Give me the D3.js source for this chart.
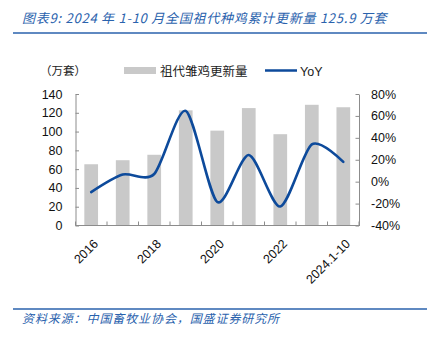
<!DOCTYPE html>
<html><head><meta charset="utf-8">
<script src="https://cdn.jsdelivr.net/npm/d3@7"></script>
<style>
body{margin:0;background:#fff;}
svg{display:block;}
text{font-family:"Liberation Sans",Arial,sans-serif;}
.cjk{font-family:"Noto Sans CJK SC",sans-serif;}
</style></head>
<body>
<svg id="c" width="427" height="338"></svg>
<script>
const categories = ["2016","2017","2018","2019","2020","2021","2022","2023","2024.1-10"];
const shownLabels = ["2016","2018","2020","2022","2024.1-10"];
const barValues = [65.2, 69.5, 75.3, 122.6, 101.0, 125.0, 97.2, 128.5, 125.9];
const yoyValues = [-9.5, 6.5, 7.0, 64.6, -18.5, 24.3, -22.7, 34.0, 18.0];
const leftTicks = [0,20,40,60,80,100,120,140];
const rightTicks = [-40,-20,0,20,40,60,80];
const titleText = "图表9:  2024 年 1-10 月全国祖代种鸡累计更新量 125.9 万套";
const sourceText = "资料来源：中国畜牧业协会，国盛证券研究所";
const unitText = "（万套）";
const barName = "祖代雏鸡更新量";
const lineName = "YoY";

const svg = d3.select("#c");
const blue = "#2a62ad";
const lineBlue = "#0d4a9b";
const axisGray = "#8c8c8c";
const barGray = "#c9c9c9";

const L = 75.5, R = 359, T = 94, B = 225.5;
const x = d3.scaleBand().domain(categories).range([L, R]).paddingInner(0.565).paddingOuter(0.28);
const yL = d3.scaleLinear().domain([0,140]).range([B, T]);
const yR = d3.scaleLinear().domain([-40,80]).range([B, T]);

// title
svg.append("text").attr("class","cjk").attr("x",22).attr("y",23)
  .attr("font-size",13).attr("letter-spacing",0.75).attr("font-style","italic").attr("fill",blue).text(titleText);
svg.append("line").attr("x1",13).attr("x2",427).attr("y1",33).attr("y2",33)
  .attr("stroke",blue).attr("stroke-width",1.5);

// source
svg.append("line").attr("x1",13).attr("x2",427).attr("y1",309).attr("y2",309)
  .attr("stroke",blue).attr("stroke-width",1.5);
svg.append("text").attr("class","cjk").attr("x",22).attr("y",323)
  .attr("font-size",12).attr("letter-spacing",0.9).attr("font-style","italic").attr("fill",blue).text(sourceText);

// legend
svg.append("text").attr("class","cjk").attr("x",40).attr("y",75).attr("font-size",11.5).attr("fill","#222").text(unitText);
svg.append("rect").attr("x",124).attr("y",67).attr("width",32).attr("height",7).attr("fill",barGray);
svg.append("text").attr("class","cjk").attr("x",160).attr("y",75.5).attr("font-size",12.5).attr("fill","#222").text(barName);
svg.append("line").attr("x1",265).attr("x2",297).attr("y1",70.5).attr("y2",70.5).attr("stroke",lineBlue).attr("stroke-width",2.5);
svg.append("text").attr("x",300).attr("y",75.5).attr("font-size",12.5).attr("fill","#222").text(lineName);

// bars
svg.append("g").selectAll("rect").data(categories).join("rect")
  .attr("x", d => x(d)).attr("width", x.bandwidth())
  .attr("y", (d,i) => yL(barValues[i])).attr("height", (d,i) => B - yL(barValues[i]))
  .attr("fill", barGray);

// axes
const gL = svg.append("g").attr("transform",`translate(${L},0)`)
  .call(d3.axisLeft(yL).tickValues(leftTicks).tickSizeInner(-3.5).tickSizeOuter(0).tickPadding(13));
const gR = svg.append("g").attr("transform",`translate(${R},0)`)
  .call(d3.axisRight(yR).tickValues(rightTicks).tickFormat(d => d + "%").tickSizeInner(-3.5).tickSizeOuter(0).tickPadding(12));
[gL,gR].forEach(g => {
  g.select(".domain").attr("stroke",axisGray);
  g.selectAll(".tick line").attr("stroke",axisGray);
  g.selectAll("text").attr("font-size",12.5).attr("fill","#111").attr("font-family","\"Liberation Sans\",Arial,sans-serif");
});

// bottom axis
const bottom = svg.append("g");
bottom.append("line").attr("x1",L).attr("x2",R).attr("y1",B).attr("y2",B).attr("stroke",axisGray);
const boundaries = d3.range(categories.length + 1).map(i => L + (R - L) * i / categories.length);
bottom.selectAll("line.tk").data(boundaries).join("line").attr("class","tk")
  .attr("x1",d=>d).attr("x2",d=>d).attr("y1",B).attr("y2",B-4).attr("stroke",axisGray);
bottom.selectAll("text").data(shownLabels).join("text")
  .attr("transform", d => `translate(${x(d) + x.bandwidth()/2 + 1.5},${B + 13}) rotate(-45)`)
  .attr("text-anchor","end").attr("dy","0.7em")
  .attr("font-size",12.5).attr("fill","#111").text(d => d);

// line
const line = d3.line()
  .x((d,i) => x(categories[i]) + x.bandwidth()/2)
  .y(d => yR(d))
  .curve(d3.curveCardinal.tension(0.2));
svg.append("path").datum(yoyValues).attr("d", line)
  .attr("fill","none").attr("stroke",lineBlue).attr("stroke-width",2.6).attr("stroke-linecap","round");
</script>
</body></html>
